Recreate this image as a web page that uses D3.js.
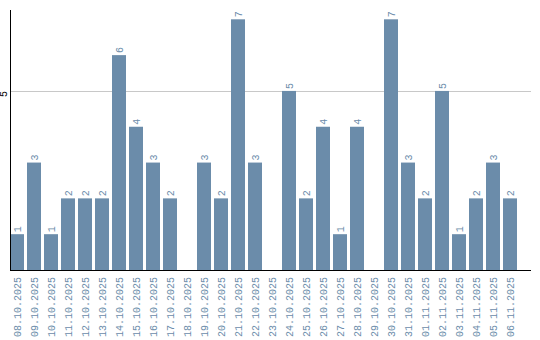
<!DOCTYPE html>
<html>
<head>
<meta charset="utf-8">
<script src="https://cdn.jsdelivr.net/npm/d3@7"></script>
<style>
  body { margin: 0; background: #fff; }
</style>
</head>
<body>
<div id="chart"></div>
<script>
const dates = ["08.10.2025", "09.10.2025", "10.10.2025", "11.10.2025", "12.10.2025",
  "13.10.2025", "14.10.2025", "15.10.2025", "16.10.2025", "17.10.2025",
  "18.10.2025", "19.10.2025", "20.10.2025", "21.10.2025", "22.10.2025",
  "23.10.2025", "24.10.2025", "25.10.2025", "26.10.2025", "27.10.2025",
  "28.10.2025", "29.10.2025", "30.10.2025", "31.10.2025", "01.11.2025",
  "02.11.2025", "03.11.2025", "04.11.2025", "05.11.2025", "06.11.2025"];
const counts = [1, 3, 1, 2, 2, 2, 6, 4, 3, 2, 0, 3, 2, 7, 3, 0, 5, 2, 4, 1, 4, 0, 7, 3, 2, 5, 1, 2, 3, 2];
const yTicks = [5];

const width = 540, height = 340;
const barColor = "#6b8caa";
const font = "'Liberation Mono', 'DejaVu Sans Mono', monospace";

const svg = d3.select("#chart").append("svg")
  .attr("width", width)
  .attr("height", height);

const x = d3.scaleBand()
  .domain(dates)
  .range([10, 517])
  .paddingInner(3 / 17)
  .paddingOuter(0);

const y = d3.scaleLinear()
  .domain([0, 7.26])
  .range([270, 10]);

// grid line
svg.append("g")
  .selectAll("line")
  .data(yTicks)
  .join("line")
  .attr("x1", 10)
  .attr("x2", 531)
  .attr("y1", d => Math.round(y(d)) + 0.5)
  .attr("y2", d => Math.round(y(d)) + 0.5)
  .attr("stroke", "#c8c8c8");

// bars
svg.append("g")
  .attr("fill", barColor)
  .selectAll("rect")
  .data(counts)
  .join("rect")
  .attr("x", (d, i) => x(dates[i]))
  .attr("y", d => y(d))
  .attr("width", x.bandwidth())
  .attr("height", d => y(0) - y(d));

// value labels
svg.append("g")
  .attr("fill", barColor)
  .attr("font-family", font)
  .attr("font-size", 10)
  .selectAll("text")
  .data(counts.map((v, i) => ({v, i})).filter(d => d.v > 0))
  .join("text")
  .attr("transform", d => `translate(${x(dates[d.i]) + x.bandwidth() / 2 + 3.5},${y(d.v) - 2}) rotate(-90)`)
  .text(d => d.v);

// y axis
svg.append("line")
  .attr("x1", 10.5).attr("x2", 10.5)
  .attr("y1", 10).attr("y2", 270)
  .attr("stroke", "#000");

svg.append("g")
  .attr("font-family", font)
  .attr("font-size", 10)
  .attr("fill", "#000")
  .selectAll("text")
  .data(yTicks)
  .join("text")
  .attr("text-anchor", "middle")
  .attr("transform", d => `translate(7,${y(d) + 3}) rotate(-90)`)
  .text(d => d);

// baseline
svg.append("line")
  .attr("x1", 10).attr("x2", 531)
  .attr("y1", 270.5).attr("y2", 270.5)
  .attr("stroke", "#000");

// date labels
svg.append("g")
  .attr("fill", barColor)
  .attr("font-family", font)
  .attr("font-size", 10)
  .attr("text-anchor", "end")
  .selectAll("text")
  .data(dates)
  .join("text")
  .attr("transform", d => `translate(${x(d) + x.bandwidth() / 2 + 3.5},277) rotate(-90)`)
  .text(d => d);
</script>
</body>
</html>
